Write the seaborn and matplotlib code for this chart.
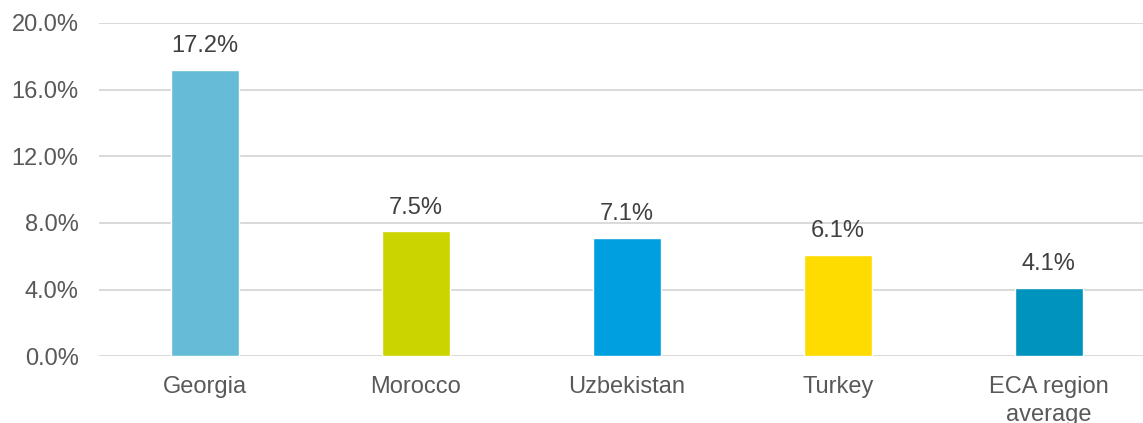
import matplotlib.pyplot as plt
import seaborn as sns
import pandas as pd
from matplotlib.ticker import FuncFormatter

countries = ["Georgia", "Morocco", "Uzbekistan", "Turkey", "ECA region\naverage"]
shares = [17.2, 7.5, 7.1, 6.1, 4.1]
bar_colors = ["#66BCD7", "#CCD400", "#009FDF", "#FFDC00", "#0093BD"]

df = pd.DataFrame({"country": countries, "share": shares})

sns.set_style("white")
plt.rcParams['font.family'] = ['Liberation Sans', 'DejaVu Sans']

fig = plt.figure(figsize=(11.43, 4.23), dpi=100)
ax = fig.add_axes([0.087, 0.158, 0.923, 0.788])

sns.barplot(data=df, x="country", y="share", hue="country", palette=bar_colors,
            width=0.32, legend=False, ax=ax, saturation=1)

ax.set_ylim(0, 20)
ax.set_yticks([0, 4, 8, 12, 16, 20])
ax.yaxis.set_major_formatter(FuncFormatter(lambda v, p: "%.1f%%" % v))
ax.grid(axis='y', color='#d9d9d9', linewidth=1.4)
ax.set_axisbelow(True)
for s in ax.spines.values():
    s.set_visible(False)
ax.tick_params(axis='both', length=0, labelsize=17, colors='#595959')
ax.tick_params(axis='y', pad=15)
ax.tick_params(axis='x', pad=14)
for t in ax.get_xticklabels():
    t.set_linespacing(1.35)
ax.set_xlabel("")
ax.set_ylabel("")

for c in ax.containers:
    ax.bar_label(c, labels=["%.1f%%" % v for v in c.datavalues], padding=9,
                 fontsize=17, color='#404040')

fig.savefig("out.png", dpi=100)
